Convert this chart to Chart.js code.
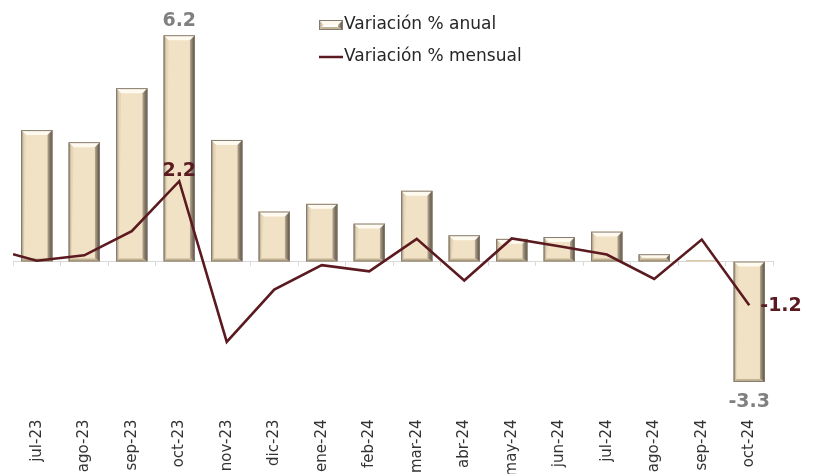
<!DOCTYPE html>
<html>
<head>
<meta charset="utf-8">
<script src="https://cdn.jsdelivr.net/npm/chart.js@4"></script>
<style>
  body { margin: 0; background: #fff; }
  #wrap { width: 816px; height: 474px; }
</style>
</head>
<body>
<div id="wrap"><canvas id="chart" width="816" height="474"></canvas></div>
<script>
const months = ['jul-23', 'ago-23', 'sep-23', 'oct-23', 'nov-23', 'dic-23', 'ene-24', 'feb-24',
                'mar-24', 'abr-24', 'may-24', 'jun-24', 'jul-24', 'ago-24', 'sep-24', 'oct-24'];
const annual = [3.6, 3.27, 4.75, 6.2, 3.33, 1.37, 1.58, 1.04, 1.94, 0.72, 0.62, 0.67, 0.82, 0.2, 0.04, -3.3];
const monthly = [0.02, 0.17, 0.83, 2.2, -2.2, -0.77, -0.1, -0.27, 0.62, -0.52, 0.63, 0.42, 0.19, -0.48, 0.6, -1.2];
// the line enters from the left edge of the plot, half a month before jul-23
const monthlyEdge = 0.2;
const labelled = [3, 15];

const maroon = '#5b1a1f';
const fontFam = '"DejaVu Sans", sans-serif';

const lineData = [{ x: -0.5, y: monthlyEdge }].concat(monthly.map((v, i) => ({ x: i, y: v })));

function bevelRect(ctx, left, top, right, bottom) {
    const h = bottom - top;
    const w = right - left;
    if (h < 1.5) {
        ctx.fillStyle = '#d8c9ad';
        ctx.fillRect(left, top, w, Math.max(h, 1));
        return;
    }
    const e = Math.min(5, h / 2);
    const b = Math.min(3, h / 2);
    ctx.save();
    // top highlight
    ctx.fillStyle = '#fffaf0';
    ctx.beginPath();
    ctx.moveTo(left, top); ctx.lineTo(right, top);
    ctx.lineTo(right - e, top + e); ctx.lineTo(left + e, top + e);
    ctx.closePath(); ctx.fill();
    // right shade
    let g = ctx.createLinearGradient(right - 5, 0, right, 0);
    g.addColorStop(0, '#b8aa92');
    g.addColorStop(1, '#4f483f');
    ctx.fillStyle = g;
    ctx.beginPath();
    ctx.moveTo(right, top); ctx.lineTo(right, bottom);
    ctx.lineTo(right - e, bottom - b); ctx.lineTo(right - e, top + e);
    ctx.closePath(); ctx.fill();
    // left edge
    g = ctx.createLinearGradient(left, 0, left + 3, 0);
    g.addColorStop(0, '#978c7a');
    g.addColorStop(1, '#e6d6ba');
    ctx.fillStyle = g;
    ctx.beginPath();
    ctx.moveTo(left, top); ctx.lineTo(left + e, top + e);
    ctx.lineTo(left + 3, bottom - b); ctx.lineTo(left, bottom);
    ctx.closePath(); ctx.fill();
    // bottom edge
    ctx.fillStyle = '#c3b395';
    ctx.beginPath();
    ctx.moveTo(left, bottom); ctx.lineTo(right, bottom);
    ctx.lineTo(right - e, bottom - b); ctx.lineTo(left + 3, bottom - b);
    ctx.closePath(); ctx.fill();
    ctx.strokeStyle = '#857a6b';
    ctx.lineWidth = 1;
    ctx.strokeRect(left + 0.5, top + 0.5, w - 1, h - 1);
    ctx.restore();
}

const bevelPlugin = {
    id: 'bevel',
    afterDatasetDraw(chart, args) {
        if (args.meta.type !== 'bar') return;
        const ctx = chart.ctx;
        args.meta.data.forEach(bar => {
            const left = bar.x - bar.width / 2;
            const right = bar.x + bar.width / 2;
            const top = Math.min(bar.y, bar.base);
            const bottom = Math.max(bar.y, bar.base);
            bevelRect(ctx, left, top, right, bottom);
        });
    }
};

const labelPlugin = {
    id: 'valueLabels',
    afterDatasetsDraw(chart) {
        const ctx = chart.ctx;
        const bars = chart.getDatasetMeta(0).data;
        const pts = chart.getDatasetMeta(1).data;
        ctx.save();
        ctx.font = 'bold 19px ' + fontFam;
        labelled.forEach(i => {
            const v = annual[i];
            const bar = bars[i];
            ctx.fillStyle = '#808080';
            ctx.textAlign = 'center';
            ctx.textBaseline = v >= 0 ? 'bottom' : 'top';
            ctx.fillText(v.toFixed(1), bar.x, v >= 0 ? bar.y - 5 : bar.y + 11);
        });
        // line labels (point 0 is the edge point)
        const p3 = pts[4];
        ctx.fillStyle = maroon;
        ctx.textAlign = 'center';
        ctx.textBaseline = 'bottom';
        ctx.fillText(monthly[3].toFixed(1), p3.x, p3.y - 1);
        const p15 = pts[16];
        ctx.textAlign = 'left';
        ctx.textBaseline = 'middle';
        ctx.fillText(monthly[15].toFixed(1), p15.x + 11, p15.y + 1);
        ctx.restore();
    }
};

const legendPlugin = {
    id: 'ownLegend',
    afterDraw(chart) {
        const ctx = chart.ctx;
        const ds = chart.data.datasets;
        const x = 319;
        ctx.save();
        ctx.font = '17px ' + fontFam;
        ctx.fillStyle = '#262626';
        ctx.textBaseline = 'middle';
        ctx.textAlign = 'left';
        bevelRect(ctx, x, 20, x + 24, 30);
        ctx.fillText(ds[0].label, x + 25, 25);
        ctx.strokeStyle = maroon;
        ctx.lineWidth = 2.5;
        ctx.beginPath();
        ctx.moveTo(x, 57); ctx.lineTo(x + 24, 57);
        ctx.stroke();
        ctx.fillText(ds[1].label, x + 25, 57);
        ctx.restore();
    }
};

new Chart(document.getElementById('chart').getContext('2d'), {
    data: {
        labels: months,
        datasets: [{
            type: 'bar',
            label: 'Variación % anual',
            data: annual,
            backgroundColor: '#f2e2c5',
            borderWidth: 0,
            grouped: false,
            barPercentage: 0.66,
            categoryPercentage: 1,
            order: 2
        }, {
            type: 'line',
            label: 'Variación % mensual',
            data: lineData,
            xAxisID: 'xl',
            borderColor: maroon,
            borderWidth: 2.6,
            pointRadius: 0,
            tension: 0,
            order: 1
        }]
    },
    options: {
        responsive: false,
        animation: false,
        layout: { padding: { top: 6, left: 13, right: 43, bottom: 0 } },
        plugins: { legend: { display: false }, tooltip: { enabled: false } },
        scales: {
            x: {
                type: 'category',
                offset: true,
                grid: { display: false, offset: true },
                border: { display: false },
                ticks: {
                    maxRotation: 90, minRotation: 90, autoSkip: false,
                    padding: 4,
                    color: '#333',
                    font: { family: fontFam, size: 15 }
                },
                afterFit(scale) { scale.height = 66.5; }
            },
            x0: {
                type: 'category',
                position: { y: 0 },
                offset: true,
                grid: { offset: true, drawOnChartArea: false, drawTicks: true, tickLength: 4, color: '#d9d9d9' },
                border: { display: true, color: '#d9d9d9', width: 1 },
                ticks: { display: false }
            },
            xl: {
                type: 'linear',
                display: false,
                min: -0.5,
                max: 15.5
            },
            y: {
                display: false,
                min: -4,
                max: 7
            }
        }
    },
    plugins: [bevelPlugin, labelPlugin, legendPlugin]
});
</script>
</body>
</html>
